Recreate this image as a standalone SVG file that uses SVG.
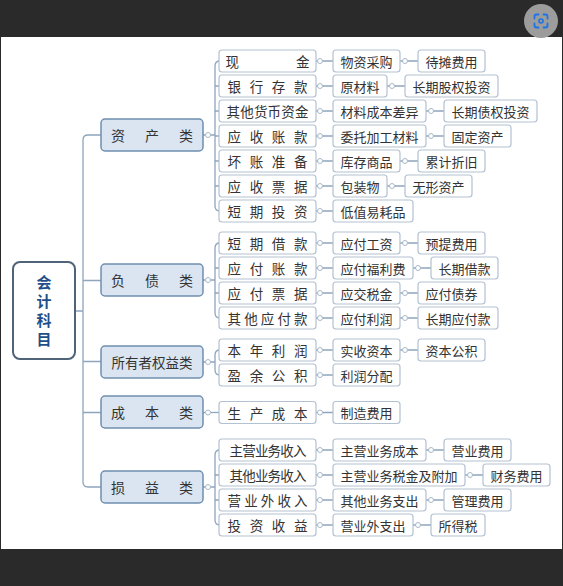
<svg xmlns="http://www.w3.org/2000/svg" width="563" height="586" viewBox="0 0 563 586">
<style>
text{font-family:"Noto Sans CJK SC","Noto Sans",sans-serif;fill:#333;dominant-baseline:central;text-anchor:middle}
.leaf rect{fill:#fff;stroke:#b3c2d2;stroke-width:1.2}
.l2 text{font-size:13.5px}
.l3 text{font-size:13px}
.cat rect{fill:#dae5f1;stroke:#6f8fae;stroke-width:1.5}
.cat text{font-size:14px}
#connectors path{fill:none;stroke:#8ea5be;stroke-width:1.3}
#connectors circle{fill:#fff;stroke:#a8b8c8;stroke-width:1}
</style>
<rect x="0" y="0" width="563" height="586" fill="#2a2a2a"/>
<rect x="1" y="37" width="561" height="512" fill="#fff"/>
<g id="lens-icon">
<circle cx="541" cy="21" r="17" fill="#9c9c9c"/>
<path d="M534.5,18.5 V16.5 Q534.5,14.5 536.5,14.5 H538.5 M543.5,14.5 H545.5 Q547.5,14.5 547.5,16.5 V18.5 M547.5,23.5 V25.5 Q547.5,27.5 545.5,27.5 H543.5 M538.5,27.5 H536.5 Q534.5,27.5 534.5,25.5 V23.5" fill="none" stroke="#1a73e8" stroke-width="1.8" stroke-linecap="round"/>
<circle cx="541" cy="21" r="2" fill="none" stroke="#1a73e8" stroke-width="1.6"/>
</g>

<g id="connectors">
<path d="M75,311 H83 M101,135 H88 Q83,135 83,140 V482 Q83,487 88,487 H101 M83,280.5 H101 M83,361.5 H101 M83,412.5 H101"/>
<path d="M203,135 H215 M220,61 Q215,61 215,66 V206 Q215,211 220,211 M215,86 H220 M215,111 H220 M215,136 H220 M215,161 H220 M215,186 H220"/>
<path d="M203,280 H215 M220,243 Q215,243 215,248 V313 Q215,318 220,318 M215,268 H220 M215,293 H220"/>
<path d="M203,362 H215 M220,350 Q215,350 215,355 V370 Q215,375 220,375"/>
<path d="M203,412.5 H220"/>
<path d="M203,487 H215 M220,450 Q215,450 215,455 V520 Q215,525 220,525 M215,475 H220 M215,500 H220"/>
<path d="M316,61 H333 M400,61 H418 M316,86 H333 M387,86 H405 M316,111 H333 M426,111 H444 M316,136 H333 M426,136 H444 M316,161 H333 M400,161 H418 M316,186 H333 M387,186 H405 M316,211 H333"/>
<path d="M316,243 H333 M400,243 H418 M316,268 H333 M413,268 H431 M316,293 H333 M400,293 H418 M316,318 H333 M400,318 H418"/>
<path d="M316,350 H333 M400,350 H418 M316,375 H333 M316,412.5 H333"/>
<path d="M316,450 H333 M426,450 H444 M316,475 H333 M465,475 H483 M316,500 H333 M426,500 H444 M316,525 H333 M413,525 H431"/>
<circle cx="208" cy="135" r="2.5"/><circle cx="208" cy="280" r="2.5"/><circle cx="208" cy="362" r="2.5"/><circle cx="208" cy="412.5" r="2.5"/><circle cx="208" cy="487" r="2.5"/>
<circle cx="320" cy="61" r="2.5"/><circle cx="320" cy="86" r="2.5"/><circle cx="320" cy="111" r="2.5"/><circle cx="320" cy="136" r="2.5"/><circle cx="320" cy="161" r="2.5"/><circle cx="320" cy="186" r="2.5"/><circle cx="320" cy="211" r="2.5"/>
<circle cx="320" cy="243" r="2.5"/><circle cx="320" cy="268" r="2.5"/><circle cx="320" cy="293" r="2.5"/><circle cx="320" cy="318" r="2.5"/>
<circle cx="320" cy="350" r="2.5"/><circle cx="320" cy="375" r="2.5"/><circle cx="320" cy="412.5" r="2.5"/>
<circle cx="320" cy="450" r="2.5"/><circle cx="320" cy="475" r="2.5"/><circle cx="320" cy="500" r="2.5"/><circle cx="320" cy="525" r="2.5"/>
<circle cx="405" cy="61" r="2.5"/><circle cx="392" cy="86" r="2.5"/><circle cx="431" cy="111" r="2.5"/><circle cx="431" cy="136" r="2.5"/><circle cx="405" cy="161" r="2.5"/><circle cx="392" cy="186" r="2.5"/>
<circle cx="405" cy="243" r="2.5"/><circle cx="418" cy="268" r="2.5"/><circle cx="405" cy="293" r="2.5"/><circle cx="405" cy="318" r="2.5"/><circle cx="405" cy="350" r="2.5"/>
<circle cx="431" cy="450" r="2.5"/><circle cx="470" cy="475" r="2.5"/><circle cx="431" cy="500" r="2.5"/><circle cx="418" cy="525" r="2.5"/>
</g>

<g id="root">
<rect x="13" y="262" width="62" height="97" rx="7" fill="#fff" stroke="#4f6478" stroke-width="2"/>
<text x="44" y="311" textLength="72" style="writing-mode:vertical-rl;font-size:15px;font-weight:bold;fill:#1f4f8a">会计科目</text>
</g>

<g id="cat-assets" class="cat"><rect x="101" y="119" width="102" height="32" rx="4"/><text x="152" y="135" textLength="82">资产类</text></g>
<g id="cat-liab" class="cat"><rect x="101" y="264" width="102" height="32" rx="4"/><text x="152" y="280" textLength="82">负债类</text></g>
<g id="cat-equity" class="cat"><rect x="101" y="346" width="102" height="32" rx="4"/><text x="152" y="362" style="font-size:13.5px">所有者权益类</text></g>
<g id="cat-cost" class="cat"><rect x="101" y="396" width="102" height="32" rx="4"/><text x="152" y="412" textLength="82">成本类</text></g>
<g id="cat-pl" class="cat"><rect x="101" y="471" width="102" height="32" rx="4"/><text x="152" y="487" textLength="82">损益类</text></g>

<g id="a1" class="leaf l2"><rect x="219" y="50" width="97" height="22" rx="3"/><text x="267.5" y="61" textLength="84">现金</text></g>
<g id="a2" class="leaf l2"><rect x="219" y="75" width="97" height="22" rx="3"/><text x="267.5" y="86" textLength="80">银行存款</text></g>
<g id="a3" class="leaf l2"><rect x="219" y="100" width="97" height="22" rx="3"/><text x="267.5" y="111" textLength="82">其他货币资金</text></g>
<g id="a4" class="leaf l2"><rect x="219" y="125" width="97" height="22" rx="3"/><text x="267.5" y="136" textLength="80">应收账款</text></g>
<g id="a5" class="leaf l2"><rect x="219" y="150" width="97" height="22" rx="3"/><text x="267.5" y="161" textLength="80">坏账准备</text></g>
<g id="a6" class="leaf l2"><rect x="219" y="175" width="97" height="22" rx="3"/><text x="267.5" y="186" textLength="80">应收票据</text></g>
<g id="a7" class="leaf l2"><rect x="219" y="200" width="97" height="22" rx="3"/><text x="267.5" y="211" textLength="80">短期投资</text></g>

<g id="a1b" class="leaf l3"><rect x="333" y="50" width="67" height="22" rx="3"/><text x="366.5" y="61">物资采购</text></g>
<g id="a1c" class="leaf l3"><rect x="418" y="50" width="67" height="22" rx="3"/><text x="451.5" y="61">待摊费用</text></g>
<g id="a2b" class="leaf l3"><rect x="333" y="75" width="54" height="22" rx="3"/><text x="360" y="86">原材料</text></g>
<g id="a2c" class="leaf l3"><rect x="405" y="75" width="93" height="22" rx="3"/><text x="451.5" y="86">长期股权投资</text></g>
<g id="a3b" class="leaf l3"><rect x="333" y="100" width="93" height="22" rx="3"/><text x="379.5" y="111">材料成本差异</text></g>
<g id="a3c" class="leaf l3"><rect x="444" y="100" width="93" height="22" rx="3"/><text x="490.5" y="111">长期债权投资</text></g>
<g id="a4b" class="leaf l3"><rect x="333" y="125" width="93" height="22" rx="3"/><text x="379.5" y="136">委托加工材料</text></g>
<g id="a4c" class="leaf l3"><rect x="444" y="125" width="67" height="22" rx="3"/><text x="477.5" y="136">固定资产</text></g>
<g id="a5b" class="leaf l3"><rect x="333" y="150" width="67" height="22" rx="3"/><text x="366.5" y="161">库存商品</text></g>
<g id="a5c" class="leaf l3"><rect x="418" y="150" width="67" height="22" rx="3"/><text x="451.5" y="161">累计折旧</text></g>
<g id="a6b" class="leaf l3"><rect x="333" y="175" width="54" height="22" rx="3"/><text x="360" y="186">包装物</text></g>
<g id="a6c" class="leaf l3"><rect x="405" y="175" width="67" height="22" rx="3"/><text x="438.5" y="186">无形资产</text></g>
<g id="a7b" class="leaf l3"><rect x="333" y="200" width="80" height="22" rx="3"/><text x="373" y="211">低值易耗品</text></g>

<g id="b1" class="leaf l2"><rect x="219" y="232" width="97" height="22" rx="3"/><text x="267.5" y="243" textLength="80">短期借款</text></g>
<g id="b2" class="leaf l2"><rect x="219" y="257" width="97" height="22" rx="3"/><text x="267.5" y="268" textLength="80">应付账款</text></g>
<g id="b3" class="leaf l2"><rect x="219" y="282" width="97" height="22" rx="3"/><text x="267.5" y="293" textLength="80">应付票据</text></g>
<g id="b4" class="leaf l2"><rect x="219" y="307" width="97" height="22" rx="3"/><text x="267.5" y="318" textLength="80">其他应付款</text></g>
<g id="b1b" class="leaf l3"><rect x="333" y="232" width="67" height="22" rx="3"/><text x="366.5" y="243">应付工资</text></g>
<g id="b1c" class="leaf l3"><rect x="418" y="232" width="67" height="22" rx="3"/><text x="451.5" y="243">预提费用</text></g>
<g id="b2b" class="leaf l3"><rect x="333" y="257" width="80" height="22" rx="3"/><text x="373" y="268">应付福利费</text></g>
<g id="b2c" class="leaf l3"><rect x="431" y="257" width="67" height="22" rx="3"/><text x="464.5" y="268">长期借款</text></g>
<g id="b3b" class="leaf l3"><rect x="333" y="282" width="67" height="22" rx="3"/><text x="366.5" y="293">应交税金</text></g>
<g id="b3c" class="leaf l3"><rect x="418" y="282" width="67" height="22" rx="3"/><text x="451.5" y="293">应付债券</text></g>
<g id="b4b" class="leaf l3"><rect x="333" y="307" width="67" height="22" rx="3"/><text x="366.5" y="318">应付利润</text></g>
<g id="b4c" class="leaf l3"><rect x="418" y="307" width="80" height="22" rx="3"/><text x="458" y="318">长期应付款</text></g>

<g id="c1" class="leaf l2"><rect x="219" y="339" width="97" height="22" rx="3"/><text x="267.5" y="350" textLength="80">本年利润</text></g>
<g id="c2" class="leaf l2"><rect x="219" y="364" width="97" height="22" rx="3"/><text x="267.5" y="375" textLength="80">盈余公积</text></g>
<g id="c1b" class="leaf l3"><rect x="333" y="339" width="67" height="22" rx="3"/><text x="366.5" y="350">实收资本</text></g>
<g id="c1c" class="leaf l3"><rect x="418" y="339" width="67" height="22" rx="3"/><text x="451.5" y="350">资本公积</text></g>
<g id="c2b" class="leaf l3"><rect x="333" y="364" width="67" height="22" rx="3"/><text x="366.5" y="375">利润分配</text></g>

<g id="d1" class="leaf l2"><rect x="219" y="401.5" width="97" height="22" rx="3"/><text x="267.5" y="412.5" textLength="80">生产成本</text></g>
<g id="d1b" class="leaf l3"><rect x="333" y="401.5" width="67" height="22" rx="3"/><text x="366.5" y="412.5">制造费用</text></g>

<g id="e1" class="leaf l2"><rect x="219" y="439" width="97" height="22" rx="3"/><text x="268" y="450" textLength="77">主营业务收入</text></g>
<g id="e2" class="leaf l2"><rect x="219" y="464" width="97" height="22" rx="3"/><text x="268" y="475" textLength="77">其他业务收入</text></g>
<g id="e3" class="leaf l2"><rect x="219" y="489" width="97" height="22" rx="3"/><text x="267.5" y="500" textLength="80">营业外收入</text></g>
<g id="e4" class="leaf l2"><rect x="219" y="514" width="97" height="22" rx="3"/><text x="267.5" y="525" textLength="80">投资收益</text></g>
<g id="e1b" class="leaf l3"><rect x="333" y="439" width="93" height="22" rx="3"/><text x="379.5" y="450">主营业务成本</text></g>
<g id="e1c" class="leaf l3"><rect x="444" y="439" width="67" height="22" rx="3"/><text x="477.5" y="450">营业费用</text></g>
<g id="e2b" class="leaf l3"><rect x="333" y="464" width="132" height="22" rx="3"/><text x="399" y="475">主营业务税金及附加</text></g>
<g id="e2c" class="leaf l3"><rect x="483" y="464" width="67" height="22" rx="3"/><text x="516.5" y="475">财务费用</text></g>
<g id="e3b" class="leaf l3"><rect x="333" y="489" width="93" height="22" rx="3"/><text x="379.5" y="500">其他业务支出</text></g>
<g id="e3c" class="leaf l3"><rect x="444" y="489" width="67" height="22" rx="3"/><text x="477.5" y="500">管理费用</text></g>
<g id="e4b" class="leaf l3"><rect x="333" y="514" width="80" height="22" rx="3"/><text x="373" y="525">营业外支出</text></g>
<g id="e4c" class="leaf l3"><rect x="431" y="514" width="54" height="22" rx="3"/><text x="458" y="525">所得税</text></g>
</svg>
